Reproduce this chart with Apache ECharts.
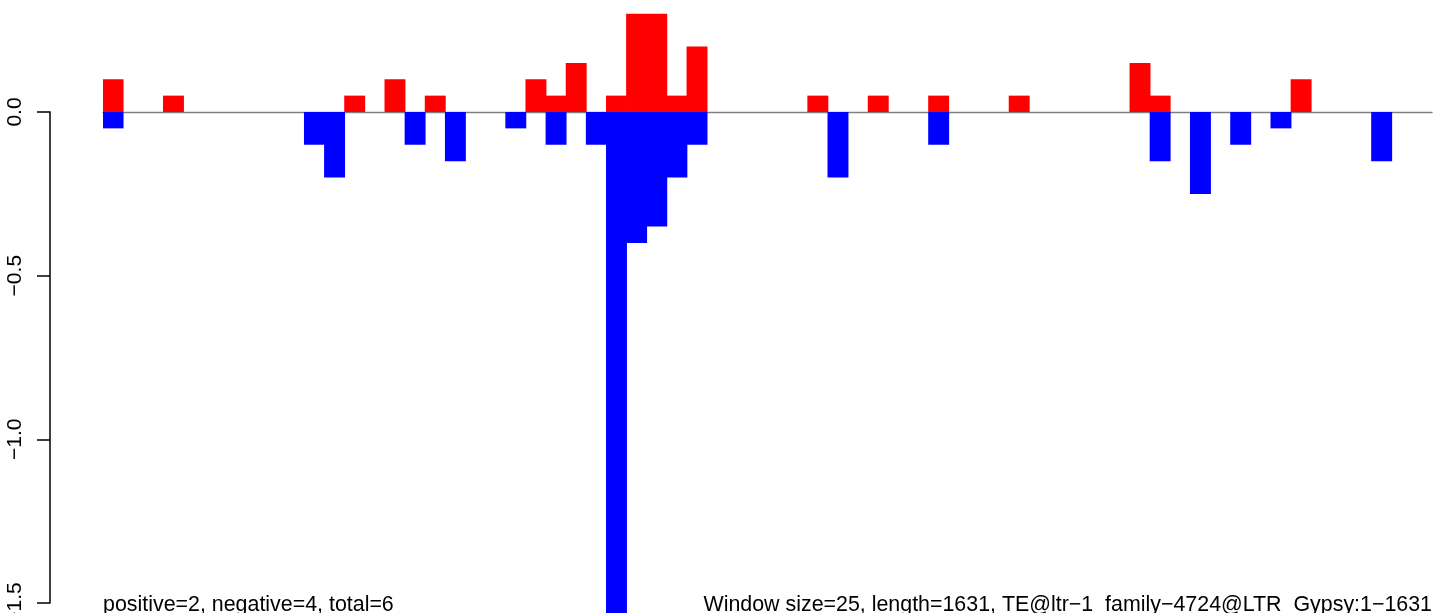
<!DOCTYPE html>
<html>
<head>
<meta charset="utf-8">
<script src="https://cdn.jsdelivr.net/npm/echarts@6/dist/echarts.min.js"></script>
<style>
  html, body { margin: 0; padding: 0; background: #fff; }
  #chart { width: 1444px; height: 613px; }
</style>
</head>
<body>
<div id="chart"></div>
<script>
// 66 windows of 25 bp
var windows = [];
for (var i = 0; i < 66; i++) windows.push(i * 25);

var positive = [0.1, 0, 0, 0.05, 0, 0, 0, 0, 0, 0,
  0, 0, 0.05, 0, 0.1, 0, 0.05, 0, 0, 0,
  0, 0.1, 0.05, 0.15, 0, 0.05, 0.3, 0.3, 0.05, 0.2,
  0, 0, 0, 0, 0, 0.05, 0, 0, 0.05, 0,
  0, 0.05, 0, 0, 0, 0.05, 0, 0, 0, 0,
  0, 0.15, 0.05, 0, 0, 0, 0, 0, 0, 0.1,
  0, 0, 0, 0, 0, 0];

var negative = [-0.05, 0, 0, 0, 0, 0, 0, 0, 0, 0,
  -0.1, -0.2, 0, 0, 0, -0.1, 0, -0.15, 0, 0,
  -0.05, 0, -0.1, 0, -0.1, -1.6, -0.4, -0.35, -0.2, -0.1,
  0, 0, 0, 0, 0, 0, -0.2, 0, 0, 0,
  0, -0.1, 0, 0, 0, 0, 0, 0, 0, 0,
  0, 0, -0.15, 0, -0.25, 0, -0.1, 0, -0.05, 0,
  0, 0, 0, -0.15, 0, 0];

var leftNote = 'positive=2, negative=4, total=6';
var rightNote = 'Window size=25, length=1631, TE@ltr\u22121_family\u22124724@LTR_Gypsy:1\u22121631';

var FONT = 'Liberation Sans, Arial, Helvetica, sans-serif';

// empty windows draw nothing
function skipZero(arr) {
  return arr.map(function (v) { return v === 0 ? '-' : v; });
}

var chart = echarts.init(document.getElementById('chart'));

chart.setOption({
  animation: false,
  backgroundColor: '#fff',
  grid: [
    { left: 103, right: 12, top: 0, bottom: 0, outerBoundsMode: 'none', containLabel: false },
    { left: 50, width: 10, top: 112, bottom: 10, outerBoundsMode: 'none', containLabel: false }
  ],
  xAxis: [
    {
      type: 'category', gridIndex: 0, data: windows, boundaryGap: true,
      axisLine: { show: true, onZero: true, lineStyle: { color: '#808080', width: 1.3 } },
      axisTick: { show: false }, axisLabel: { show: false }, splitLine: { show: false }
    },
    {
      type: 'value', gridIndex: 1, min: 0, max: 1, show: false
    }
  ],
  yAxis: [
    {
      type: 'value', gridIndex: 0, min: -1.5298, max: 0.342, show: false
    },
    {
      type: 'value', gridIndex: 1, min: -1.5, max: 0, interval: 0.5,
      axisLine: { show: true, lineStyle: { color: '#000', width: 1.5 } },
      axisTick: { show: true, length: 13, lineStyle: { color: '#000', width: 1.5 } },
      axisLabel: {
        show: true, rotate: 90, margin: 24, color: '#000',
        fontFamily: FONT, fontSize: 21, hideOverlap: false,
        showMinLabel: true, showMaxLabel: true,
        formatter: function (v) { return v === 0 ? '0.0' : v.toFixed(1).replace('-', '\u2212'); }
      },
      splitLine: { show: false }
    }
  ],
  series: [
    {
      type: 'bar', name: 'positive', xAxisIndex: 0, yAxisIndex: 0,
      data: skipZero(positive), barWidth: '104%', barGap: '-100%',
      itemStyle: { color: '#ff0000' }
    },
    {
      type: 'bar', name: 'negative', xAxisIndex: 0, yAxisIndex: 0,
      data: skipZero(negative), barWidth: '104%', barGap: '-100%',
      itemStyle: { color: '#0000ff' }
    }
  ],
  graphic: [
    {
      type: 'text', left: 103, top: 595,
      style: { text: leftNote, font: '21.4px ' + FONT, fill: '#000' }
    },
    {
      type: 'text', right: 12, top: 595,
      style: { text: rightNote, font: '21.4px ' + FONT, fill: '#000' }
    }
  ]
});
</script>
</body>
</html>
